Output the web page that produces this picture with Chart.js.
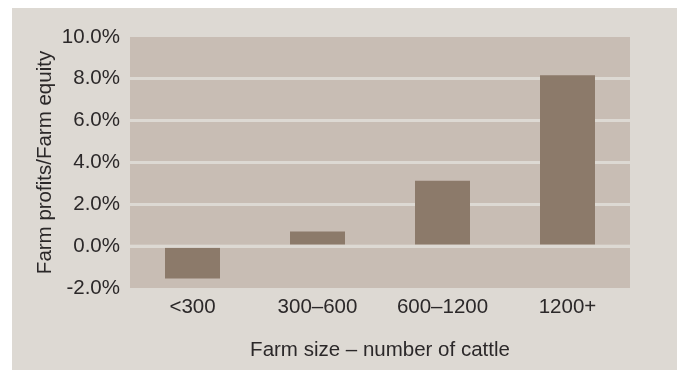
<!DOCTYPE html>
<html>
<head>
<meta charset="utf-8">
<script src="https://cdn.jsdelivr.net/npm/chart.js@4.4.0/dist/chart.umd.min.js"></script>
<style>
  html, body { margin: 0; padding: 0; background: #ffffff; }
  #wrap { position: relative; width: 677px; height: 371px; }
  canvas { display: block; }
</style>
</head>
<body>
<div id="wrap"><canvas id="chart" width="677" height="371"></canvas></div>
<script>
// Return on equity by herd size
const categories = ['<300', '300\u2013600', '600\u20131200', '1200+'];
const profitToEquity = [-1.55, 0.7, 3.13, 8.17];
const yTicks = [-2, 0, 2, 4, 6, 8, 10];

const PANEL = '#ddd9d3';
const PLOT_BG = '#c8bdb4';
const BAR = '#8c7a6a';
const TEXT = '#2b2829';
const FONT = "'Liberation Sans', Arial, Helvetica, sans-serif";
const SIZE = 20.5;

// Beige panel behind the chart and a darker plot area
const backdrop = {
  id: 'backdrop',
  beforeDraw(chart) {
    const { ctx, chartArea: a } = chart;
    ctx.save();
    ctx.fillStyle = PANEL;
    ctx.fillRect(12, 8, chart.width - 12, chart.height - 9);
    ctx.fillStyle = PLOT_BG;
    ctx.fillRect(a.left, a.top, a.right - a.left, a.bottom - a.top);
    ctx.restore();
  }
};

// Zero line sits on top of the bars
const zeroLine = {
  id: 'zeroLine',
  afterDatasetsDraw(chart) {
    const { ctx, chartArea: a, scales } = chart;
    const y = scales.y.getPixelForValue(0);
    ctx.save();
    ctx.fillStyle = PANEL;
    ctx.fillRect(a.left, y - 1.5, a.right - a.left, 3);
    ctx.restore();
  }
};

new Chart(document.getElementById('chart'), {
  type: 'bar',
  data: {
    labels: categories,
    datasets: [{
      data: profitToEquity,
      backgroundColor: BAR,
      borderWidth: 0,
      barPercentage: 0.44,
      categoryPercentage: 1.0
    }]
  },
  options: {
    responsive: false,
    animation: false,
    events: [],
    layout: { padding: { left: 12, top: 37, right: 47, bottom: 0 } },
    plugins: {
      legend: { display: false },
      tooltip: { enabled: false }
    },
    scales: {
      x: {
        grid: { display: false, drawTicks: false },
        border: { display: false },
        ticks: { color: TEXT, font: { family: FONT, size: SIZE }, padding: 7 },
        title: {
          display: true,
          text: 'Farm size \u2013 number of cattle',
          color: TEXT,
          font: { family: FONT, size: SIZE },
          padding: { top: 0, bottom: 8.5 }
        },
        afterFit(scale) { scale.height = 83; }
      },
      y: {
        min: -2,
        max: 10,
        afterBuildTicks(scale) { scale.ticks = yTicks.map(v => ({ value: v })); },
        grid: {
          drawTicks: false,
          lineWidth: 3,
          color: ctx => (ctx.tick && (ctx.tick.value === -2 || ctx.tick.value === 10)) ? 'rgba(0,0,0,0)' : PANEL
        },
        border: { display: false },
        ticks: {
          color: TEXT,
          font: { family: FONT, size: SIZE },
          padding: 10,
          callback: v => v.toFixed(1) + '%'
        },
        title: {
          display: true,
          text: 'Farm profits/Farm equity',
          color: TEXT,
          font: { family: FONT, size: SIZE },
          padding: { top: 21, bottom: 0 }
        },
        afterFit(scale) { scale.width = 118; }
      }
    }
  },
  plugins: [backdrop, zeroLine]
});
</script>
</body>
</html>
